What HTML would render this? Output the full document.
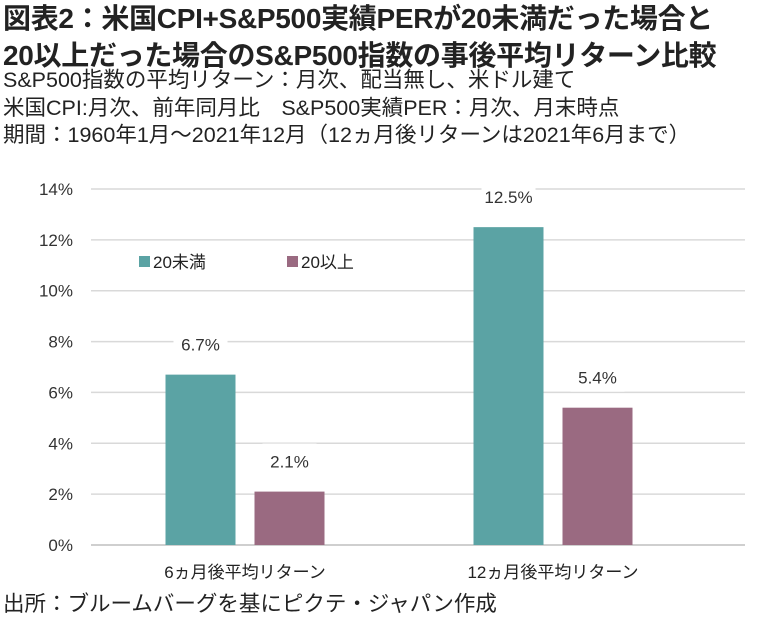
<!DOCTYPE html>
<html><head><meta charset="utf-8"><style>
body{margin:0;width:757px;height:616px;background:#fff;overflow:hidden;font-family:"Liberation Sans","Noto Sans CJK JP",sans-serif;color:#222}
.t{position:absolute;left:3px;white-space:nowrap}
</style></head><body>
<div class="t" style="top:0px;font-size:28px;font-weight:bold;line-height:37px;letter-spacing:-0.3px">図表2：米国CPI+S&amp;P500実績PERが20未満だった場合と<br>20以上だった場合のS&amp;P500指数の事後平均リターン比較</div>
<div class="t" style="top:67px;font-size:21.5px;line-height:27.5px">S&amp;P500指数の平均リターン：月次、配当無し、米ドル建て<br>米国CPI:月次、前年同月比　S&amp;P500実績PER：月次、月末時点<br>期間：1960年1月～2021年12月（12ヵ月後リターンは2021年6月まで）</div>
<svg id="c" width="757" height="616" style="position:absolute;left:0;top:0"></svg>
<div class="t" style="top:587px;font-size:21.5px">出所：ブルームバーグを基にピクテ・ジャパン作成</div>
<script>
const categories=["6ヵ月後平均リターン","12ヵ月後平均リターン"];
const seriesNames=["20未満","20以上"];
const under20=[6.7,12.5];
const over20=[2.1,5.4];
const valueLabels=[["6.7%","12.5%"],["2.1%","5.4%"]];
const ticks=[0,2,4,6,8,10,12,14];
const colors=["#5ba3a4","#9a6a81"];
const svg=document.getElementById('c');const NS="http://www.w3.org/2000/svg";
const x0=91,x1=745,bandEnd=707,y0=545,y1=189,vmax=14;
const y=v=>y0-(v/vmax)*(y0-y1);
function mk(t,a,txt){const e=document.createElementNS(NS,t);for(const k in a)e.setAttribute(k,a[k]);if(txt!=null)e.textContent=txt;svg.appendChild(e);return e;}
ticks.forEach(t=>{
 const g=mk('line',{x1:x0,x2:x1,y1:y(t),y2:y(t),stroke:t===0?'#bfbfbf':'#d9d9d9','stroke-width':1.5});
 
 
 const l=mk('text',{x:73,y:y(t)+6,'text-anchor':'end','font-size':17,fill:'#333'},t+'%');
 
 
});
const gw=(bandEnd-x0)/categories.length,bw=70,gap=19;
const series=[under20,over20];
categories.forEach((c,i)=>{
 const cx=x0+gw*(i+0.5);
 series.forEach((s,j)=>{
  const bx=cx-bw-gap/2+j*(bw+gap);
  const r=mk('rect',{x:bx,y:y(s[i]),width:bw,height:y0-y(s[i]),fill:colors[j]});
  
  
  mk('rect',{x:bx+8,y:y(s[i])-48,width:bw-16,height:32,fill:'#fff'});
  const t=mk('text',{x:bx+bw/2,y:y(s[i])-24,'text-anchor':'middle','font-size':17,fill:'#333'},valueLabels[j][i]);
  
  
 });
 const cl=mk('text',{x:cx,y:578,'text-anchor':'middle','font-size':17,fill:'#222'},c);
 
 
});
const lx=[139,287];
seriesNames.forEach((n,j)=>{
 mk('rect',{x:lx[j]-4,y:251,width:135,height:24,fill:'#fff'});
 const r=mk('rect',{x:lx[j],y:256,width:11,height:11,fill:colors[j]});
 
 
 const t=mk('text',{x:lx[j]+14,y:268,'font-size':17,fill:'#222'},n);
 
 
});
</script>
</body></html>
